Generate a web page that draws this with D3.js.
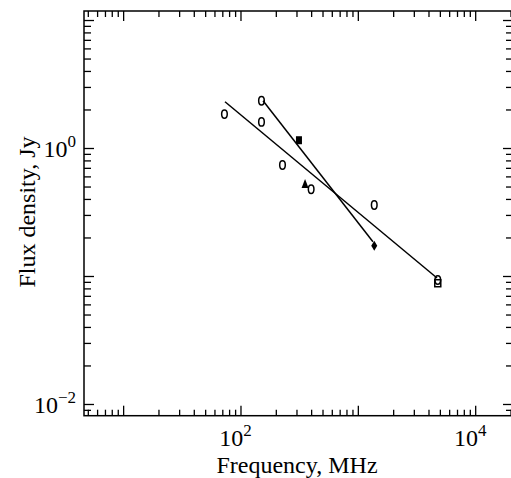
<!DOCTYPE html>
<html>
<head>
<meta charset="utf-8">
<script src="https://cdn.jsdelivr.net/npm/d3@7"></script>
<style>
  body { margin: 0; background: #fff; }
  text { font-family: "Liberation Serif", "Times New Roman", serif; fill: #000; }
</style>
</head>
<body>
<div id="chart"></div>
<script>
const WIDTH = 511;
const HEIGHT = 478;

// DATA (frequency MHz, flux density Jy)
const openFreq = [73, 151, 151, 228, 400, 1380, 4800];
const openFlux = [1.84, 2.34, 1.6, 0.737, 0.476, 0.359, 0.093];
const squareFreq = [315];
const squareFlux = [1.15];
const triangleFreq = [355];
const triangleFlux = [0.523];
const diamondFreq = [1380];
const diamondFlux = [0.172];
const openSquareFreq = [4800];
const openSquareFlux = [0.087];

// fitted lines
const fit1Freq = [73.8, 4730];
const fit1Flux = [2.3, 0.0965];
const fit2Freq = [155.6, 1345];
const fit2Flux = [2.34, 0.185];

const xMajorLabels = [1e2, 1e4];
const yMajorLabels = [1e0, 1e-2];
const xLabelText = ["2", "4"];
const yLabelText = ["0", "\u22122"];

const svg = d3
  .select("#chart")
  .append("svg")
  .attr("width", WIDTH)
  .attr("height", HEIGHT);

const x = d3.scaleLog().domain([4.64, 2.1e4]).range([84, 513]);
const y = d3.scaleLog().domain([11.76, 0.0081]).range([11, 415.7]);

// tick values
function logTicks(lo, hi) {
  const major = [], minor = [];
  for (let e = Math.floor(Math.log10(lo)); e <= Math.ceil(Math.log10(hi)); e++) {
    for (let m = 1; m <= 9; m++) {
      const v = m * Math.pow(10, e);
      if (v < lo * 0.999 || v > hi * 1.001) continue;
      if (m === 1) major.push(v); else minor.push(v);
    }
  }
  return { major, minor };
}
const xt = logTicks(4.64, 2.1e4);
const yt = logTicks(0.0081, 11.76);

const [x0, x1] = x.range();
const [y0, y1] = y.range();

// AXES (ticks inward on all four sides)
function drawAxis(axisFn, scale, transform, values, size) {
  svg.append("g")
    .attr("transform", transform)
    .call(axisFn(scale).tickValues(values).tickSize(-size).tickFormat(""))
    .call((g) => g.select(".domain").remove())
    .selectAll("line")
    .attr("stroke", "#000")
    .attr("stroke-width", 1.3);
}
drawAxis(d3.axisBottom, x, `translate(0, ${y1})`, xt.major, 10);
drawAxis(d3.axisBottom, x, `translate(0, ${y1})`, xt.minor, 6);
drawAxis(d3.axisTop, x, `translate(0, ${y0})`, xt.major, 10);
drawAxis(d3.axisTop, x, `translate(0, ${y0})`, xt.minor, 6);
drawAxis(d3.axisLeft, y, `translate(${x0}, 0)`, yt.major, 10);
drawAxis(d3.axisLeft, y, `translate(${x0}, 0)`, yt.minor, 7);
drawAxis(d3.axisRight, y, `translate(${x1}, 0)`, yt.major, 10);
drawAxis(d3.axisRight, y, `translate(${x1}, 0)`, yt.minor, 7);

// FRAME
svg.append("rect")
  .attr("x", x0)
  .attr("y", y0)
  .attr("width", x1 - x0)
  .attr("height", y1 - y0)
  .attr("fill", "none")
  .attr("stroke", "#000")
  .attr("stroke-width", 1.5);

// TICK LABELS
xMajorLabels.forEach((v, i) => {
  const t = svg.append("text")
    .attr("x", x(v) - 5)
    .attr("y", y1 + 30)
    .attr("text-anchor", "middle")
    .attr("font-size", "24px");
  t.append("tspan").text("10");
  t.append("tspan").attr("dy", -10).attr("font-size", "17px").text(xLabelText[i]);
});
yMajorLabels.forEach((v, i) => {
  const t = svg.append("text")
    .attr("x", x0 - 8)
    .attr("y", y(v) + 9)
    .attr("text-anchor", "end")
    .attr("font-size", "24px");
  t.append("tspan").text("10");
  t.append("tspan").attr("dy", -10).attr("font-size", "17px").text(yLabelText[i]);
});

// AXIS TITLES
svg.append("text")
  .attr("x", 297)
  .attr("y", 473)
  .attr("text-anchor", "middle")
  .attr("font-size", "24px")
  .text("Frequency, MHz");

svg.append("text")
  .attr("transform", `translate(35, 212) rotate(-90)`)
  .attr("text-anchor", "middle")
  .attr("font-size", "24px")
  .text("Flux density, Jy");

// FIT LINES
const line = d3.line().x((d) => x(d[0])).y((d) => y(d[1]));
[[fit1Freq, fit1Flux], [fit2Freq, fit2Flux]].forEach(([fs, ss]) => {
  svg.append("path")
    .attr("d", line(fs.map((f, i) => [f, ss[i]])))
    .attr("fill", "none")
    .attr("stroke", "#000")
    .attr("stroke-width", 1.5);
});

// POINTS
svg.append("g")
  .selectAll("ellipse")
  .data(openFreq.map((f, i) => [f, openFlux[i]]))
  .join("ellipse")
  .attr("cx", (d) => x(d[0]))
  .attr("cy", (d) => y(d[1]))
  .attr("rx", 2.8)
  .attr("ry", 4.2)
  .attr("fill", "none")
  .attr("stroke", "#000")
  .attr("stroke-width", 1.5);

svg.append("g")
  .selectAll("rect")
  .data(openSquareFreq.map((f, i) => [f, openSquareFlux[i]]))
  .join("rect")
  .attr("x", (d) => x(d[0]) - 3)
  .attr("y", (d) => y(d[1]) - 4)
  .attr("width", 6)
  .attr("height", 7)
  .attr("fill", "none")
  .attr("stroke", "#000")
  .attr("stroke-width", 1.5);

svg.append("g")
  .selectAll("rect")
  .data(squareFreq.map((f, i) => [f, squareFlux[i]]))
  .join("rect")
  .attr("x", (d) => x(d[0]) - 3)
  .attr("y", (d) => y(d[1]) - 4)
  .attr("width", 6)
  .attr("height", 8)
  .attr("fill", "#000");

svg.append("g")
  .selectAll("path")
  .data(triangleFreq.map((f, i) => [f, triangleFlux[i]]))
  .join("path")
  .attr("d", (d) => {
    const cx = x(d[0]), cy = y(d[1]);
    return `M${cx},${cy - 5}L${cx + 3.5},${cy + 4}L${cx - 3.5},${cy + 4}Z`;
  })
  .attr("fill", "#000");

svg.append("g")
  .selectAll("path")
  .data(diamondFreq.map((f, i) => [f, diamondFlux[i]]))
  .join("path")
  .attr("d", (d) => {
    const cx = x(d[0]), cy = y(d[1]);
    return `M${cx},${cy - 5}L${cx + 3},${cy}L${cx},${cy + 5}L${cx - 3},${cy}Z`;
  })
  .attr("fill", "#000");
</script>
</body>
</html>
